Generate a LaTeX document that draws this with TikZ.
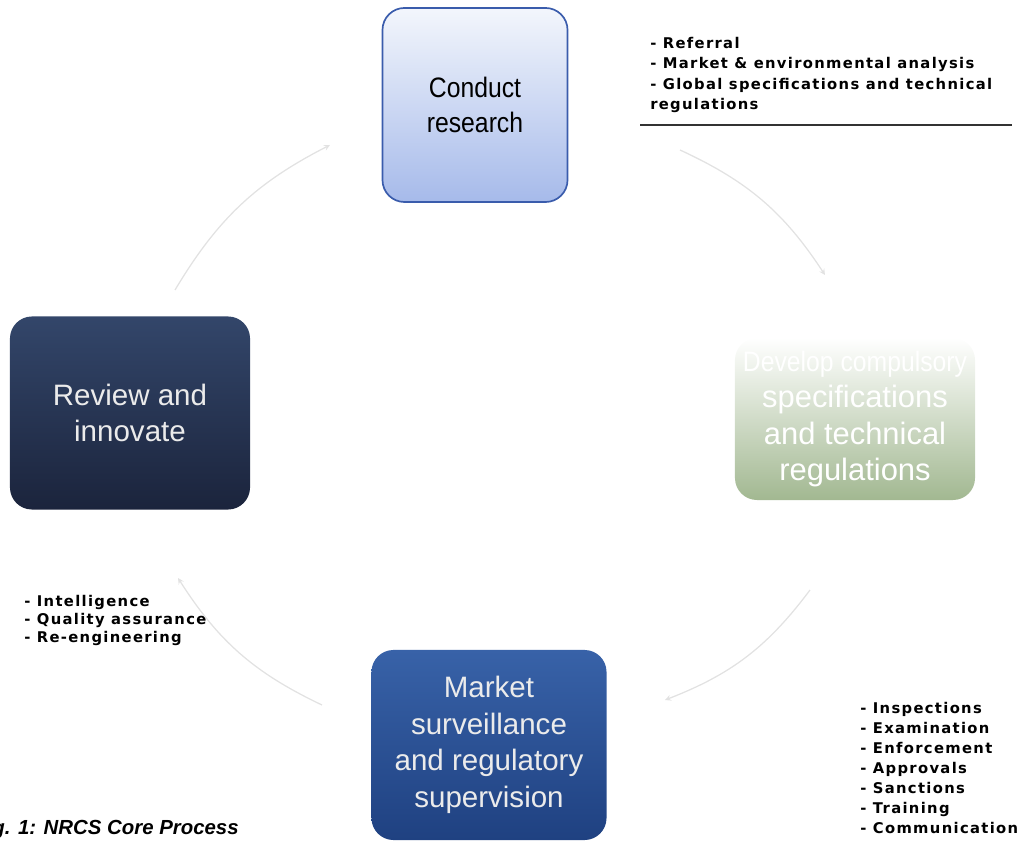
\documentclass[tikz,border=0pt]{standalone}
\usepackage{fontspec}
\setmainfont{Liberation Sans}
\newfontfamily\boxfont[FakeStretch=0.88]{Liberation Sans}
\newfontfamily\listfont[LetterSpace=9]{DejaVu Sans}
\usepackage{xcolor}
\usepackage{tikz}
\definecolor{researchtop}{HTML}{F3F6FC}
\definecolor{researchbottom}{HTML}{A6BAEA}
\definecolor{researchedge}{HTML}{3A5CAC}
\definecolor{specsmid}{HTML}{DCEBF0}
\definecolor{specsbottom}{HTML}{A2B891}
\definecolor{reviewtop}{HTML}{33466A}
\definecolor{reviewbottom}{HTML}{1B243C}
\definecolor{markettop}{HTML}{3862A8}
\definecolor{marketbottom}{HTML}{1F4181}
\definecolor{cyclegray}{HTML}{E2E2E2}
\usetikzlibrary{arrows, positioning}

\begin{document}
\begin{tikzpicture}[
    x=0.025cm, y=-0.025cm,
    box/.style={rectangle, rounded corners=0.55cm, align=center, font=\fontsize{21}{26}\selectfont},
    researchbox/.style={box, top color=researchtop, bottom color=researchbottom, draw=researchedge, line width=1.2pt, text=black, font=\boxfont\fontsize{20}{25}\selectfont},
    specsbox/.style={box, top color=white, middle color=specsmid, bottom color=specsbottom, text=white, font=\fontsize{22}{26}\selectfont},
    reviewbox/.style={box, top color=reviewtop, bottom color=reviewbottom, text=white!92!black},
    marketbox/.style={box, top color=markettop, bottom color=marketbottom, text=white!92!black},
    notes/.style={align=left, inner sep=0pt, font=\listfont\bfseries\fontsize{10.5}{14.5}\selectfont},
    cyclearrow/.style={->, >=stealth, draw=cyclegray, line width=0.9pt}
]
    \useasboundingbox (0,0) rectangle (1028,846);
    \clip (0,0) rectangle (1028,846);

    % Process steps
    \node[researchbox, minimum width=4.625cm, minimum height=4.85cm] (research) at (475,105) {Conduct\\research};
    \node[specsbox, minimum width=6cm, minimum height=4.05cm] (specs) at (855,419)
        {{\boxfont\fontsize{20}{26}\selectfont Develop compulsory}\\specifications\\and technical\\regulations};
    \node[marketbox, minimum width=5.875cm, minimum height=4.75cm] (market) at (489,745) {Market\\surveillance\\and regulatory\\supervision};
    \node[reviewbox, minimum width=6cm, minimum height=4.825cm] (review) at (130,413) {Review and\\innovate};

    % Activities
    \node[notes, anchor=north west] (researchnotes) at (650,37)
        {- Referral\\- Market \& environmental analysis\\- Global specifications and technical\\regulations};
    \draw[line width=1pt, black!80] (640,125) -- (1012,125);
    \node[notes, anchor=north west, font=\listfont\bfseries\fontsize{10.5}{12.8}\selectfont] (reviewnotes) at (24,595)
        {- Intelligence\\- Quality assurance\\- Re-engineering};
    \node[notes, anchor=north west, font=\listfont\bfseries\fontsize{10.5}{14.2}\selectfont] (marketnotes) at (860,702)
        {- Inspections\\- Examination\\- Enforcement\\- Approvals\\- Sanctions\\- Training\\- Communication};

    % Cycle arrows
    \coordinate (a1) at (680,150);
    \coordinate (b1) at (825,275);
    \coordinate (a2) at (810,590);
    \coordinate (b2) at (665,700);
    \coordinate (a3) at (322,705);
    \coordinate (b3) at (178,578);
    \coordinate (a4) at (175,290);
    \coordinate (b4) at (330,145);
    \draw[cyclearrow] (a1) to[bend left=16] (b1);
    \draw[cyclearrow] (a2) to[bend left=16] (b2);
    \draw[cyclearrow] (a3) to[bend left=16] (b3);
    \draw[cyclearrow] (a4) to[bend left=16] (b4);

    % Caption
    \node[anchor=base west, inner sep=0pt, font=\bfseries\itshape\fontsize{14.5}{16}\selectfont] (caption) at (-26,834)
        {Fig. 1: NRCS Core Process};
\end{tikzpicture}
\end{document}
